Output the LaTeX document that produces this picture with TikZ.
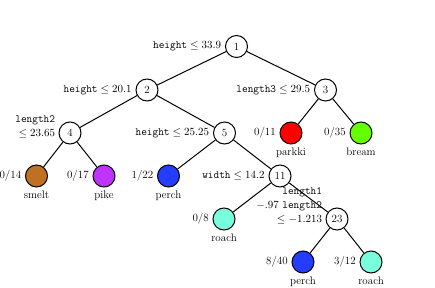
\documentclass[tikz,border=0pt]{standalone}
\usepackage{amsmath}
\usepackage{amssymb}
\usepackage{xcolor}
\usetikzlibrary{calc}

\definecolor{smeltc}{RGB}{191,112,32}
\definecolor{pikec}{RGB}{190,50,250}
\definecolor{perchc}{RGB}{35,60,255}
\definecolor{parkkic}{RGB}{255,0,0}
\definecolor{breamc}{RGB}{100,255,0}
\definecolor{roachc}{RGB}{120,255,220}

\begin{document}
\begin{tikzpicture}[x=1pt, y=-1pt, line width=1pt,
    every node/.style={font=\fontsize{11}{13.6}\selectfont},
    split/.style={circle, draw, minimum size=22pt, inner sep=0pt},
    leaf/.style={split, fill=#1},
    rule/.style={label={left:#1}},
    longrule/.style={align=right, inner sep=0pt, anchor=south east}]
    \useasboundingbox (0,0) rectangle (435,288);

    % Split nodes
    \node [split, rule={$\texttt{height} \le 33.9$}] (n1) at (236.5, 46.5) {1};
    \node [split, rule={$\texttt{height} \le 20.1$}] (n2) at (147, 90) {2};
    \node [split, rule={$\texttt{length3} \le 29.5$}] (n3) at (325.5, 90) {3};
    \node [split] (n4) at (70, 133) {4};
    \node [split, rule={$\texttt{height} \le 25.25$}] (n5) at (224.5, 133) {5};
    \node [split, rule={$\texttt{width} \le 14.2$}] (n11) at (280, 176) {11};
    \node [split] (n23) at (337, 219) {23};
    \node [longrule] (c4) at ([xshift=-3pt, yshift=-5pt]n4.west)
        {\texttt{length2}\\$\le 23.65$};
    \node [longrule] (c23) at ([xshift=-3pt, yshift=-5pt]n23.west)
        {\texttt{length1}\\$-.97$ \texttt{length2}\\$\le -1.213$};

    % Leaves
    \node [leaf=parkkic, label=left:0/11, label=below:parkki] (parkki) at (291, 133) {};
    \node [leaf=breamc, label=left:0/35, label=below:bream] (bream) at (361, 133) {};
    \node [leaf=smeltc, label=left:0/14, label=below:smelt] (smelt) at (36.5, 176) {};
    \node [leaf=pikec, label=left:0/17, label=below:pike] (pike) at (104, 176) {};
    \node [leaf=perchc, label=left:1/22, label=below:perch] (perchA) at (168.5, 176) {};
    \node [leaf=roachc, label=left:0/8, label=below:roach] (roachA) at (224, 219) {};
    \node [leaf=perchc, label=left:8/40, label=below:perch] (perchB) at (303, 262) {};
    \node [leaf=roachc, label=left:3/12, label=below:roach] (roachB) at (371, 262) {};

    % Edges
    \draw (n1) -- (n2);
    \draw (n1) -- (n3);
    \draw (n2) -- (n4);
    \draw (n2) -- (n5);
    \draw (n3) -- (parkki);
    \draw (n3) -- (bream);
    \draw (n4) -- (smelt);
    \draw (n4) -- (pike);
    \draw (n5) -- (perchA);
    \draw (n5) -- (n11);
    \draw (n11) -- (roachA);
    \draw (n11) -- (n23);
    \draw (n23) -- (perchB);
    \draw (n23) -- (roachB);
\end{tikzpicture}
\end{document}
